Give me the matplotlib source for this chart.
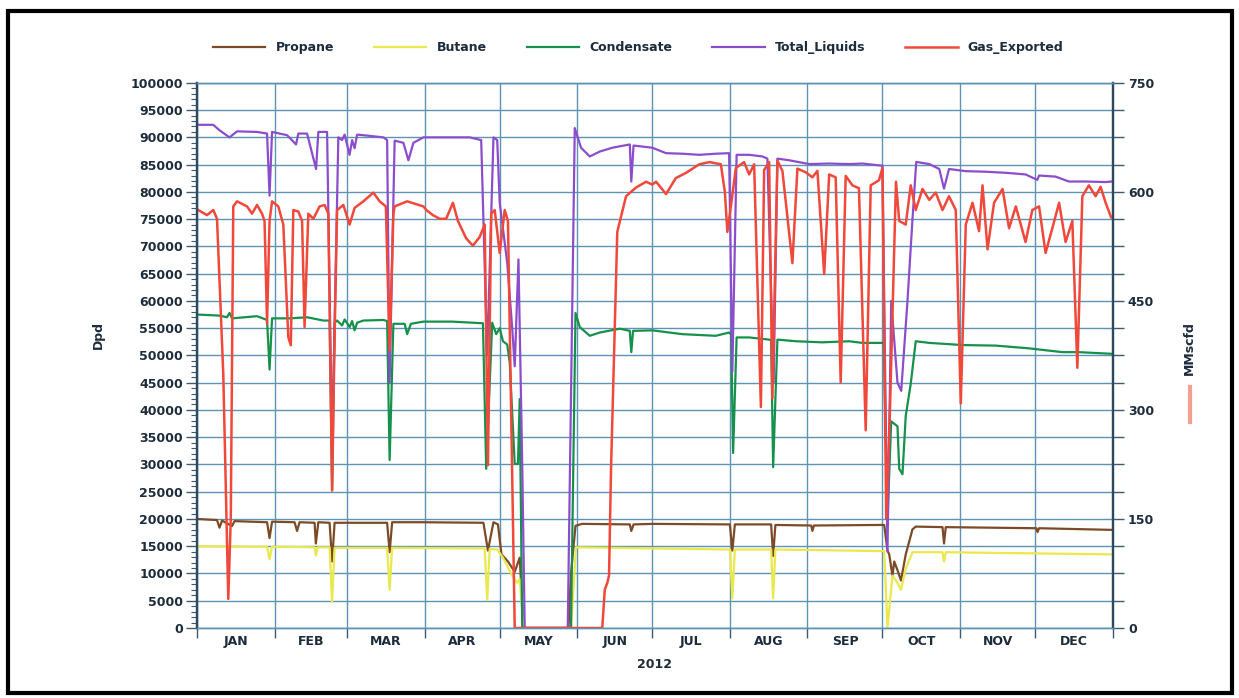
import numpy as np
import matplotlib
matplotlib.use('Agg')
import matplotlib.pyplot as plt
from matplotlib.lines import Line2D
from matplotlib.patches import Rectangle

# day-of-year 2012 (0 = 1 Jan)
months = ['JAN', 'FEB', 'MAR', 'APR', 'MAY', 'JUN', 'JUL', 'AUG', 'SEP', 'OCT', 'NOV', 'DEC']
month_starts = [0, 31, 60, 91, 121, 152, 182, 213, 244, 274, 305, 335, 366]

propane = [(0, 20000), (8, 19800), (9, 18400), (10, 19700), (14, 18700), (15, 19600), (28, 19400), (29, 16500),
           (30, 19500), (39, 19400), (40, 17800), (41, 19400), (47, 19300), (47.5, 15500), (48.5, 19400),
           (53, 19300), (54, 12200), (55, 19300), (62, 19300), (76, 19300), (77, 13900), (78, 19400), (90, 19400),
           (114.5, 19300), (116.3, 14200), (118.5, 19400), (120.3, 19000), (121.7, 13500), (124.3, 12200),
           (127, 10300), (129, 12900), (130.5, 0), (148.5, 0), (149.5, 10000), (151.3, 18750), (154, 19100),
           (173, 19000), (173.6, 17800), (174.5, 19000), (182, 19100), (213, 19000), (214, 14200), (215, 19000),
           (229.5, 19000), (230.3, 13200), (231.2, 18900), (245.5, 18800), (246, 17800), (246.6, 18800),
           (272.7, 18900), (274.7, 18900), (276, 14200), (276.7, 13500), (278, 9600), (278.7, 12200),
           (280, 10600), (281.4, 8700), (283.3, 13500), (286, 18100), (287.3, 18600), (298, 18500),
           (298.6, 15500), (299.3, 18500), (335.5, 18300), (336, 17600), (336.6, 18300), (365.5, 18000)]

butane = [(0, 15000), (28, 14900), (29, 12600), (30, 14900), (47, 14800), (47.5, 13300), (48.3, 14800),
          (53, 14800), (54, 4750), (55, 14700), (76, 14700), (77, 7000), (78, 14700), (115, 14600), (116, 5100),
          (117, 14500), (120, 14400), (122.3, 12900), (126, 9600), (128, 8300), (129, 9000), (130.5, 0),
          (149.5, 0), (151.5, 14800), (213, 14400), (214, 5400), (215, 14400), (229.5, 14400), (230.3, 5400),
          (231.2, 14400), (274.7, 14100), (276, 0), (278, 9600), (280, 8300), (281.4, 7000), (283.3, 10900),
          (286, 13900), (298, 13900), (298.6, 12200), (299.3, 13900), (365.5, 13500)]

condensate = [(0, 57500), (9, 57300), (12, 57000), (13, 57800), (14, 56800), (24, 57200), (28, 56500),
              (29, 47400), (30, 56800), (37, 56800), (44, 57000), (50.5, 56400), (53, 56400), (54, 25300),
              (55, 56000), (56, 56400), (58, 55500), (59, 56600), (61, 55200), (62, 56300), (63, 54600),
              (64, 56000), (66.5, 56400), (74.5, 56500), (76, 56300), (77, 30800), (78.5, 55800), (83, 55800),
              (84, 53900), (85.5, 55800), (90.5, 56200), (102, 56200), (114.3, 55900), (115.6, 29200),
              (118, 56000), (119.6, 53900), (121, 55000), (122.3, 52600), (124, 52000), (125, 48700),
              (127, 30100), (128.3, 30100), (129, 42000), (130, 0), (149.5, 0), (151.3, 57800), (153, 55200),
              (157, 53600), (161, 54200), (169, 54900), (173, 54500), (173.6, 50600), (174.3, 54500),
              (182, 54600), (194, 53900), (207.4, 53600), (212.7, 54200), (213.5, 53800), (214.3, 32100),
              (215.7, 53300), (220.7, 53300), (228.7, 52900), (229.5, 52800), (230.3, 29500), (232, 52900),
              (239.4, 52600), (250, 52400), (260.6, 52600), (266, 52300), (274.5, 52300), (276, 20000),
              (277.5, 37900), (280, 37000), (280.7, 29200), (282, 28200), (283.3, 38900), (285.3, 44800),
              (287.3, 52600), (292.7, 52300), (306, 51900), (319.3, 51800), (332.6, 51300), (345.9, 50600),
              (352.5, 50600), (365.5, 50300)]

total_liquids = [(0, 92300), (6.5, 92300), (9, 91300), (13, 90000), (16, 91100), (24, 91000), (28, 90700),
                 (29, 79300), (30, 91000), (36, 90400), (39.6, 88700), (40.5, 90700), (44, 90700),
                 (47.6, 84200), (48.5, 91000), (52, 91000), (54, 33000), (56.5, 90000), (58, 89500),
                 (59, 90500), (61, 86800), (62, 89500), (63, 88000), (64, 90500), (66.5, 90400), (74.5, 90000),
                 (76, 89500), (77, 45000), (79, 89400), (82.5, 89000), (84.5, 85800), (86.5, 89000),
                 (90.5, 90000), (102, 90000), (109, 90000), (113.6, 89500), (116, 50000), (118.5, 90000),
                 (120, 89500), (121, 78000), (124, 67000), (126, 55000), (127, 48000), (128.5, 67600),
                 (130, 30000), (131, 0), (148.2, 0), (151, 91700), (151.5, 91000), (153.5, 88100),
                 (157, 86500), (161, 87400), (166, 88100), (173, 88700), (173.6, 81900), (174.5, 88500),
                 (182, 88100), (187.5, 87100), (194, 87000), (200.8, 86800), (207.4, 87000), (212.7, 87100),
                 (214, 47000), (215.7, 86800), (220.7, 86800), (226, 86500), (228, 86100), (230.5, 45000),
                 (232, 86100), (236.7, 85800), (244.7, 85100), (252.7, 85200), (260.6, 85100), (266, 85200),
                 (274, 84800), (276, 14000), (277.5, 60000), (280, 45000), (281.5, 43500), (284, 60000),
                 (286, 75000), (287.5, 85500), (292.7, 85100), (296.7, 84200), (298.6, 80600), (300.6, 84200),
                 (307.3, 83800), (315.3, 83700), (323.3, 83500), (331.2, 83200), (335.9, 82200),
                 (336.6, 83000), (343.2, 82800), (348.5, 81900), (355.2, 81900), (363.2, 81800),
                 (365.5, 81900)]

gas_exported = [(0.5, 575), (4, 568), (6.5, 575), (8, 563), (10, 390), (10.5, 350), (12.5, 40), (13.5, 150),
                (14.5, 580), (16, 587), (20, 580), (22, 570), (24, 582), (26, 570), (27, 560), (28, 419),
                (29, 560), (30, 587), (32.5, 580), (34.5, 555), (36.5, 400), (37.5, 389), (38.5, 575),
                (40.5, 573), (42, 560), (43, 414), (44.5, 570), (46.5, 563), (49, 580), (51, 582), (52.5, 570),
                (54, 189), (55, 400), (56, 575), (58.5, 582), (61, 555), (63, 578), (66.5, 587), (70.5, 599),
                (73, 587), (75.5, 580), (77, 382), (78.5, 570), (79, 580), (84, 587), (90.5, 580), (91.7, 575),
                (94.3, 568), (97, 563), (99.6, 563), (102.3, 585), (104.3, 560), (107.6, 536), (110.3, 526),
                (113, 538), (115, 555), (116.3, 224), (117.6, 570), (119, 575), (121, 516), (123, 575),
                (124.3, 560), (127, 0), (162, 0), (163, 53), (164, 62), (164.7, 72), (165.5, 219), (167, 414),
                (168, 545), (171.5, 594), (175.5, 606), (179.5, 614), (182, 610), (183.5, 614), (187.5, 597),
                (191.4, 619), (195.4, 626), (200.8, 638), (204.8, 641), (209.4, 638), (211, 600), (212, 545),
                (213.4, 580), (215.4, 633), (218.7, 641), (220.7, 624), (222.7, 638), (225.4, 304),
                (226.7, 630), (228.7, 641), (230, 316), (232, 643), (234, 629), (238, 502), (240, 632),
                (243.3, 627), (246, 620), (248, 629), (250.7, 487), (252.7, 624), (255.3, 620), (257.3, 338),
                (259.3, 622), (262, 609), (264.6, 605), (267.3, 272), (269.3, 609), (272.6, 616), (274, 633),
                (275.5, 150), (277, 300), (279.4, 614), (280.7, 560), (283.3, 555), (285.3, 609), (287.3, 575),
                (290, 604), (292.7, 589), (295.3, 599), (298, 575), (300.6, 594), (303.3, 575), (305.3, 309),
                (307.3, 555), (310, 585), (312.6, 546), (314, 609), (316, 521), (318.6, 585), (322, 604),
                (324.6, 550), (327.3, 580), (331.2, 531), (333.9, 575), (336.6, 580), (339.2, 516),
                (341.9, 550), (344.6, 585), (347.2, 531), (349.9, 560), (351.9, 358), (353.9, 594),
                (356.5, 609), (359.2, 594), (361.2, 607), (363.2, 585), (365.4, 565)]

tick_col = '#1d2c3c'
grid_col = '#5e93b3'
bold = dict(fontsize=9, fontweight='bold', color=tick_col)

fig = plt.figure(figsize=(12.39, 6.98), dpi=100)
ax = fig.add_axes([0.159, 0.1003, 0.739, 0.781])
ax2 = ax.twinx()

series = [('Propane', propane, '#7d4a27'), ('Butane', butane, '#e9e84c'),
          ('Condensate', condensate, '#15914b'), ('Total_Liquids', total_liquids, '#8c4dcc')]
handles = []
for name, data, col in series:
    d = np.array(data)
    h, = ax.plot(d[:, 0], d[:, 1], color=col, lw=1.6, label=name)
    handles.append(h)
d = np.array(gas_exported)
h, = ax2.plot(d[:, 0], d[:, 1], color='#f0483a', lw=1.8, label='Gas_Exported')
handles.append(h)

ax.set_xlim(0, 366)
ax.set_ylim(0, 100000)
ax2.set_ylim(0, 750)

ax.set_yticks(np.arange(0, 100001, 5000))
ax.set_yticks(np.arange(0, 100001, 1000), minor=True)
ax.set_yticklabels([str(v) for v in range(0, 100001, 5000)], **bold)
ax.tick_params(axis='y', which='major', length=8, width=1, color='#3d5a70', pad=2)
ax.tick_params(axis='y', which='minor', length=4, width=0.8, color='#3d5a70')

ax2.set_yticks(np.arange(0, 751, 37.5))
ax2.set_yticklabels([str(int(v)) if v % 150 == 0 else '' for v in np.arange(0, 751, 37.5)], **bold)
ax2.tick_params(axis='y', length=8, width=1, color='#3d5a70', pad=3)

ax.set_xticks(month_starts)
ax.set_xticklabels([])
mids = [(a + b) / 2 for a, b in zip(month_starts[:-1], month_starts[1:])]
ax.set_xticks(mids, minor=True)
ax.set_xticklabels(months, minor=True, **bold)
ax.tick_params(axis='x', which='major', length=7, width=1, color='#3d5a70')
ax.tick_params(axis='x', which='minor', length=0, pad=5)

ax.grid(True, which='major', color=grid_col, lw=1)
ax.set_axisbelow(True)
for a in (ax, ax2):
    for s in a.spines.values():
        s.set_color(grid_col)
        s.set_linewidth(1)
    a.spines['left'].set_color('#2e4a60')
    a.spines['right'].set_color('#2e4a60')
    a.spines['left'].set_linewidth(1.6)
    a.spines['right'].set_linewidth(1.6)

fig.legend(handles=handles, loc='center', bbox_to_anchor=(0.515, 0.932), ncol=5, frameon=False,
           handlelength=4.2, columnspacing=3.2, prop=dict(size=9, weight='bold'), labelcolor=tick_col)

fig.text(98 / 1239, 1 - 335 / 698, 'Dpd', rotation=90, ha='center', va='center', **bold)
fig.text(1189 / 1239, 1 - 348 / 698, 'MMscfd', rotation=90, ha='center', va='center', **bold)
fig.add_artist(Line2D([1190 / 1239] * 2, [1 - 387 / 698, 1 - 422 / 698], color='#f4a090', lw=3,
                      transform=fig.transFigure))
fig.text(655 / 1239, 1 - 665 / 698, '2012', ha='center', va='center', **bold)

fig.add_artist(Rectangle((8 / 1239, 5 / 698), 1224 / 1239, 682 / 698, fill=False, edgecolor='black',
                         lw=3, transform=fig.transFigure))

fig.savefig('out.png', dpi=100)
